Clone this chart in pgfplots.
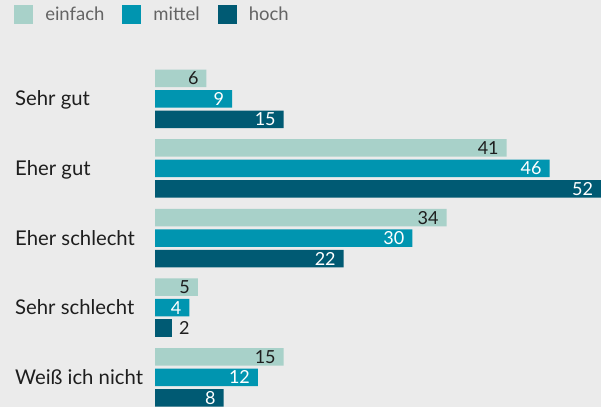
\documentclass[border=0pt]{standalone}
\usepackage{pgfplots}
\pgfplotsset{compat=1.18}
\usepackage{fontspec}
\setmainfont{Lato}
\definecolor{bg}{RGB}{235,235,235}
\definecolor{cE}{RGB}{168,209,201}
\definecolor{cM}{RGB}{0,149,176}
\definecolor{cH}{RGB}{0,90,115}
\definecolor{txt}{RGB}{30,30,30}
\definecolor{leg}{RGB}{100,100,100}
\begin{document}
\begin{tikzpicture}
\fill[bg] (0,0) rectangle (601bp,407bp);
\useasboundingbox (0,0) rectangle (601bp,407bp);
\begin{axis}[
  at={(155bp,0bp)}, anchor=south west,
  scale only axis, width=446bp, height=347bp,
  xmin=0, xmax=52, ymin=-0.427, ymax=4.559,
  xbar, bar width=17.5bp,
  /pgf/number format/assume math mode=true,
  axis line style={draw=none}, major tick length=0pt,
  xtick=\empty, ytick={0,1,2,3,4},
  yticklabels={Weiß ich nicht, Sehr schlecht, Eher schlecht, Eher gut, Sehr gut},
  yticklabel style={font=\fontsize{20.3bp}{24bp}\selectfont, text=txt, anchor=base west, inner sep=0pt, xshift=-140bp, yshift=-7bp},
  clip=false,
  legend columns=3,
  legend style={at={(-0.316,1.158)}, anchor=north west, draw=none, fill=none,
    font=\fontsize{18.5bp}{22bp}\selectfont, text=leg, inner sep=0pt,
    /tikz/every odd column/.append style={column sep=10bp},
    /tikz/every even column/.append style={column sep=16bp}},
  legend image code/.code={\fill[#1] (0bp,-9.5bp) rectangle (19bp,9.5bp);},
]
\addplot[fill=cE, draw=none, bar shift=20.5bp, nodes near coords,
  nodes near coords style={anchor=east, xshift=-4.5bp, text=txt, font=\fontsize{18bp}{20bp}\selectfont}]
  coordinates {(6,4) (41,3) (34,2) (5,1) (15,0)};
\addlegendentry{einfach}
\addplot[fill=cM, draw=none, bar shift=0bp, nodes near coords,
  nodes near coords style={anchor=east, xshift=-4.5bp, text=white, font=\fontsize{18bp}{20bp}\selectfont}]
  coordinates {(9,4) (46,3) (30,2) (4,1) (12,0)};
\addlegendentry{mittel}
\addplot[fill=cH, draw=none, bar shift=-20.5bp, nodes near coords,
  nodes near coords style={anchor=east, xshift=-4.5bp, text=white, font=\fontsize{18bp}{20bp}\selectfont}]
  coordinates {(15,4) (52,3) (22,2) (8,0)};
\addlegendentry{hoch}
\addplot[fill=cH, draw=none, bar shift=-20.5bp, forget plot, nodes near coords,
  nodes near coords style={anchor=west, xshift=3.5bp, text=txt, font=\fontsize{18bp}{20bp}\selectfont}]
  coordinates {(2,1)};
\end{axis}
\end{tikzpicture}
\end{document}
